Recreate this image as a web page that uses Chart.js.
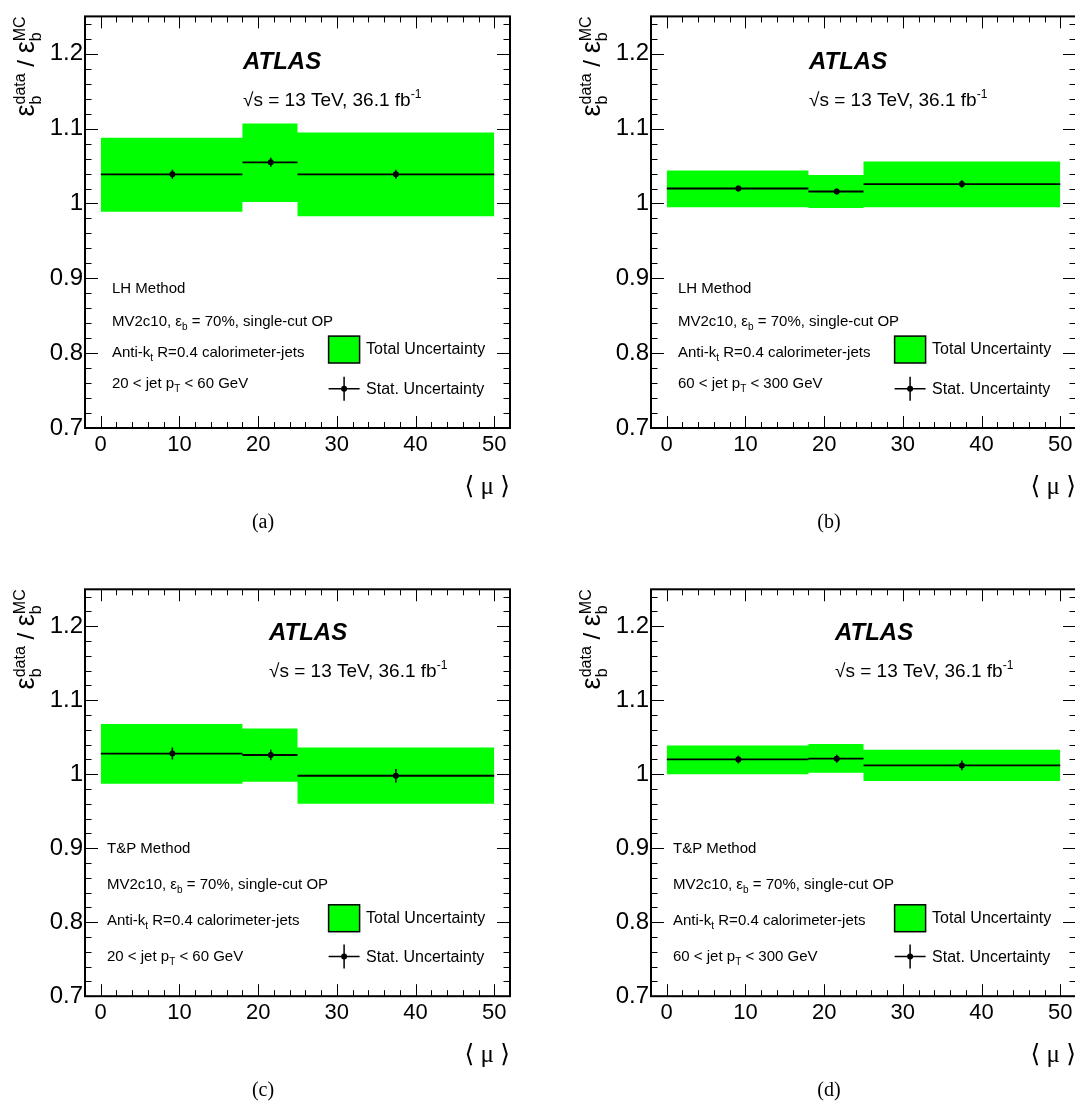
<!DOCTYPE html>
<html>
<head>
<meta charset="utf-8">
<title>b-tagging scale factors vs pile-up</title>
<script src="https://cdn.jsdelivr.net/npm/chart.js@4.4.1/dist/chart.umd.min.js"></script>
<style>
  html, body { margin: 0; padding: 0; background: #fff; overflow: hidden; }
  #page { position: relative; width: 1075px; height: 1106px; overflow: hidden; }
  #page canvas { position: absolute; }
</style>
</head>
<body>
<div id="page">
  <canvas id="panelA" width="540" height="560" style="left:0px;top:0px"></canvas>
  <canvas id="panelB" width="540" height="560" style="left:566px;top:0px"></canvas>
  <canvas id="panelC" width="540" height="560" style="left:0px;top:572px"></canvas>
  <canvas id="panelD" width="540" height="560" style="left:566px;top:572px"></canvas>
</div>
<script>
// binning in <mu> and where the points sit
const binEdges = [0, 18, 25, 50];
const pointMu = [9.1, 21.6, 37.5];
const xTickValues = [0, 10, 20, 30, 40, 50];
const yTickValues = [0.7, 0.8, 0.9, 1.0, 1.1, 1.2];

// one entry per panel (a) (b) (c) (d)
const panelTags = ['(a)', '(b)', '(c)', '(d)'];
const methods = ['LH Method', 'LH Method', 'T&P Method', 'T&P Method'];
const ptLow = ['20', '60', '20', '60'];
const ptHigh = ['60', '300', '60', '300'];

// data/MC scale factor per bin
const sfCentral = [
  [1.039, 1.055, 1.039],
  [1.020, 1.016, 1.026],
  [1.028, 1.026, 0.998],
  [1.020, 1.021, 1.012]
];
const sfStat = [
  [0.006, 0.006, 0.006],
  [0.004, 0.004, 0.005],
  [0.008, 0.007, 0.009],
  [0.0055, 0.0055, 0.0065]
];
// total uncertainty band edges
const totalHigh = [
  [1.088, 1.107, 1.095],
  [1.044, 1.038, 1.056],
  [1.068, 1.062, 1.036],
  [1.039, 1.041, 1.033]
];
const totalLow = [
  [0.989, 1.002, 0.983],
  [0.995, 0.994, 0.995],
  [0.987, 0.990, 0.960],
  [1.000, 1.002, 0.991]
];

const SANS = "'Liberation Sans', Arial, Helvetica, sans-serif";
const SERIF = "'Liberation Serif', 'DejaVu Serif', 'DejaVu Sans', serif";
const GREEN = '#00ff00';

// text placement differs a little between the top and bottom row
const rowLayout = [
  { padTop: 15.5, padBottom: 102, atlasX: 158, atlasY: 52.5, lumiY: 89.5, infoX: 27,
    infoY: [277, 310, 340.5, 371.5], boxY: [319.7, 346.6], totalY: 338, statLineY: 372.4, statY: 377.6 },
  { padTop: 17.3, padBottom: 105.8, atlasX: 184, atlasY: 50.7, lumiY: 88, infoX: 22,
    infoY: [264, 299.5, 335.5, 372], boxY: [315.5, 342.4], totalY: 333.4, statLineY: 367.2, statY: 372.4 }
];

function stepPoints(vals) {
  const pts = [];
  vals.forEach((v, i) => {
    pts.push({ x: binEdges[i], y: v }, { x: binEdges[i + 1], y: v });
  });
  return pts;
}

function binLines(vals) {
  const pts = [];
  vals.forEach((v, i) => {
    pts.push({ x: binEdges[i], y: v }, { x: binEdges[i + 1], y: v }, { x: binEdges[i + 1], y: null });
  });
  return pts;
}

function statBars(vals, errs) {
  const pts = [];
  vals.forEach((v, i) => {
    pts.push({ x: pointMu[i], y: v - errs[i] }, { x: pointMu[i], y: v + errs[i] }, { x: pointMu[i], y: null });
  });
  return pts;
}

// small helper for text with sub/superscripts
function setFont(ctx, p) {
  ctx.font = (p.style || '') + ' ' + p.size + 'px ' + (p.family || SANS);
}
function richWidth(ctx, parts) {
  let w = 0;
  parts.forEach(p => {
    setFont(ctx, p);
    if (p.stack) {
      w += Math.max(ctx.measureText(p.stack[0]).width, ctx.measureText(p.stack[1]).width);
    } else {
      w += ctx.measureText(p.t).width;
    }
  });
  return w;
}
function drawRich(ctx, x, y, parts) {
  parts.forEach(p => {
    setFont(ctx, p);
    if (p.stack) {
      ctx.fillText(p.stack[0], x, y + p.down);
      ctx.fillText(p.stack[1], x, y - p.up);
      x += Math.max(ctx.measureText(p.stack[0]).width, ctx.measureText(p.stack[1]).width);
    } else {
      ctx.fillText(p.t, x, y + (p.dy || 0));
      x += ctx.measureText(p.t).width;
    }
  });
}

// ROOT style frame with ticks pointing inwards on all four sides
const rootFrame = {
  id: 'rootFrame',
  afterDatasetsDraw(chart) {
    const ctx = chart.ctx;
    const a = chart.chartArea;
    const xs = chart.scales.x, ys = chart.scales.y;
    ctx.save();
    ctx.strokeStyle = '#000';
    ctx.lineWidth = 1;
    ctx.beginPath();
    for (let v = 0; v <= 50; v += 2) {
      const px = Math.round(xs.getPixelForValue(v)) + 0.5;
      const len = v % 10 === 0 ? 12 : 6;
      ctx.moveTo(px, a.bottom); ctx.lineTo(px, a.bottom - len);
      ctx.moveTo(px, a.top); ctx.lineTo(px, a.top + len);
    }
    for (let k = 70; k <= 124; k += 2) {
      const py = Math.round(ys.getPixelForValue(k / 100)) + 0.5;
      const len = k % 10 === 0 ? 13 : 6.5;
      ctx.moveTo(a.left, py); ctx.lineTo(a.left + len, py);
      ctx.moveTo(a.right, py); ctx.lineTo(a.right - len, py);
    }
    ctx.stroke();
    ctx.lineWidth = 2;
    ctx.strokeRect(a.left, a.top, a.right - a.left, a.bottom - a.top);
    ctx.restore();
  },
  afterDraw(chart, args, opts) {
    const ctx = chart.ctx;
    const a = chart.chartArea;
    const lay = rowLayout[opts.row];
    const i = opts.index;
    ctx.save();
    ctx.fillStyle = '#000';
    ctx.textBaseline = 'alphabetic';
    ctx.textAlign = 'left';

    // ATLAS label and energy/luminosity
    ctx.font = 'italic bold 24px ' + SANS;
    ctx.fillText('ATLAS', a.left + lay.atlasX, a.top + lay.atlasY);
    drawRich(ctx, a.left + lay.atlasX, a.top + lay.lumiY, [
      { t: '\u221As = 13 TeV, 36.1 fb', size: 19 },
      { t: '-1', size: 12, dy: -8 }
    ]);

    // selection text block
    const ix = a.left + lay.infoX;
    drawRich(ctx, ix, a.top + lay.infoY[0], [{ t: methods[i], size: 15 }]);
    drawRich(ctx, ix, a.top + lay.infoY[1], [
      { t: 'MV2c10, \u03B5', size: 15 }, { t: 'b', size: 10, dy: 4 },
      { t: ' = 70%, single-cut OP', size: 15 }
    ]);
    drawRich(ctx, ix, a.top + lay.infoY[2], [
      { t: 'Anti-k', size: 15 }, { t: 't', size: 10, dy: 4 },
      { t: ' R=0.4 calorimeter-jets', size: 15 }
    ]);
    drawRich(ctx, ix, a.top + lay.infoY[3], [
      { t: ptLow[i] + ' < jet p', size: 15 }, { t: 'T', size: 10, dy: 4 },
      { t: ' < ' + ptHigh[i] + ' GeV', size: 15 }
    ]);

    // legend
    const bx = a.left + 243.6, bw = 31;
    ctx.fillStyle = GREEN;
    ctx.fillRect(bx, a.top + lay.boxY[0], bw, lay.boxY[1] - lay.boxY[0]);
    ctx.strokeStyle = '#000';
    ctx.lineWidth = 1.5;
    ctx.strokeRect(bx, a.top + lay.boxY[0], bw, lay.boxY[1] - lay.boxY[0]);
    ctx.fillStyle = '#000';
    drawRich(ctx, bx + 37.5, a.top + lay.totalY, [{ t: 'Total Uncertainty', size: 16 }]);
    const sy = a.top + lay.statLineY, cx = bx + bw / 2;
    ctx.beginPath();
    ctx.moveTo(bx, sy); ctx.lineTo(bx + bw, sy);
    ctx.moveTo(cx, sy - 12); ctx.lineTo(cx, sy + 12);
    ctx.stroke();
    ctx.beginPath();
    ctx.arc(cx, sy, 3, 0, Math.PI * 2);
    ctx.fill();
    drawRich(ctx, bx + 37.5, a.top + lay.statY, [{ t: 'Stat. Uncertainty', size: 16 }]);

    // axis titles
    ctx.font = '25px ' + SERIF;
    ctx.textAlign = 'right';
    ctx.fillText('\u27E8 \u03BC \u27E9', a.right, a.bottom + 66);
    ctx.font = '20px ' + SERIF;
    ctx.textAlign = 'center';
    ctx.fillText(panelTags[i], 263, a.bottom + 100);

    const yTitle = [
      { t: '\u03B5', size: 27 }, { stack: ['b', 'data'], size: 16, down: 7, up: 9 },
      { t: ' / ', size: 24 },
      { t: '\u03B5', size: 27 }, { stack: ['b', 'MC'], size: 16, down: 7, up: 9 }
    ];
    ctx.textAlign = 'left';
    const w = richWidth(ctx, yTitle);
    ctx.translate(34, a.top + w);
    ctx.rotate(-Math.PI / 2);
    drawRich(ctx, 0, 0, yTitle);
    ctx.restore();
  }
};

function makePanel(canvasId, i) {
  const lay = rowLayout[i < 2 ? 0 : 1];
  return new Chart(document.getElementById(canvasId), {
    type: 'line',
    data: {
      datasets: [
        {
          label: 'Total Uncertainty',
          data: stepPoints(totalHigh[i]),
          order: 10,
          borderWidth: 0,
          pointRadius: 0,
          backgroundColor: GREEN,
          fill: '+1'
        },
        {
          label: 'lower',
          data: stepPoints(totalLow[i]),
          order: 11,
          borderWidth: 0,
          pointRadius: 0,
          fill: false
        },
        {
          label: 'bins',
          data: binLines(sfCentral[i]),
          order: 2,
          borderColor: '#000',
          borderWidth: 1.8,
          pointRadius: 0,
          spanGaps: false,
          fill: false
        },
        {
          label: 'Stat. Uncertainty',
          data: statBars(sfCentral[i], sfStat[i]),
          order: 1,
          borderColor: '#000',
          borderWidth: 1.5,
          pointRadius: 0,
          spanGaps: false,
          fill: false
        },
        {
          label: 'points',
          data: sfCentral[i].map((v, k) => ({ x: pointMu[k], y: v })),
          order: 0,
          showLine: false,
          pointRadius: 3,
          pointBackgroundColor: '#000',
          pointBorderColor: '#000',
          pointBorderWidth: 0
        }
      ]
    },
    options: {
      responsive: false,
      animation: false,
      events: [],
      layout: { padding: { left: 25, top: lay.padTop, right: 30, bottom: lay.padBottom } },
      plugins: {
        legend: { display: false },
        tooltip: { enabled: false },
        rootFrame: { index: i, row: i < 2 ? 0 : 1 }
      },
      scales: {
        x: {
          type: 'linear',
          min: -2,
          max: 52,
          grid: { display: false, drawTicks: false },
          border: { display: false },
          afterBuildTicks: axis => { axis.ticks = xTickValues.map(v => ({ value: v })); },
          afterFit: axis => { axis.height = 30; },
          ticks: { color: '#000', padding: 4, maxRotation: 0, font: { family: SANS, size: 22 } }
        },
        y: {
          type: 'linear',
          min: 0.7,
          max: 1.25,
          grid: { display: false, drawTicks: false },
          border: { display: false },
          afterBuildTicks: axis => { axis.ticks = yTickValues.map(v => ({ value: v })); },
          afterFit: axis => { axis.width = 60; },
          ticks: {
            color: '#000',
            padding: 2,
            font: { family: SANS, size: 24 },
            callback: v => String(Math.round(v * 10) / 10)
          }
        }
      }
    },
    plugins: [rootFrame]
  });
}

makePanel('panelA', 0);
makePanel('panelB', 1);
makePanel('panelC', 2);
makePanel('panelD', 3);
</script>
</body>
</html>
